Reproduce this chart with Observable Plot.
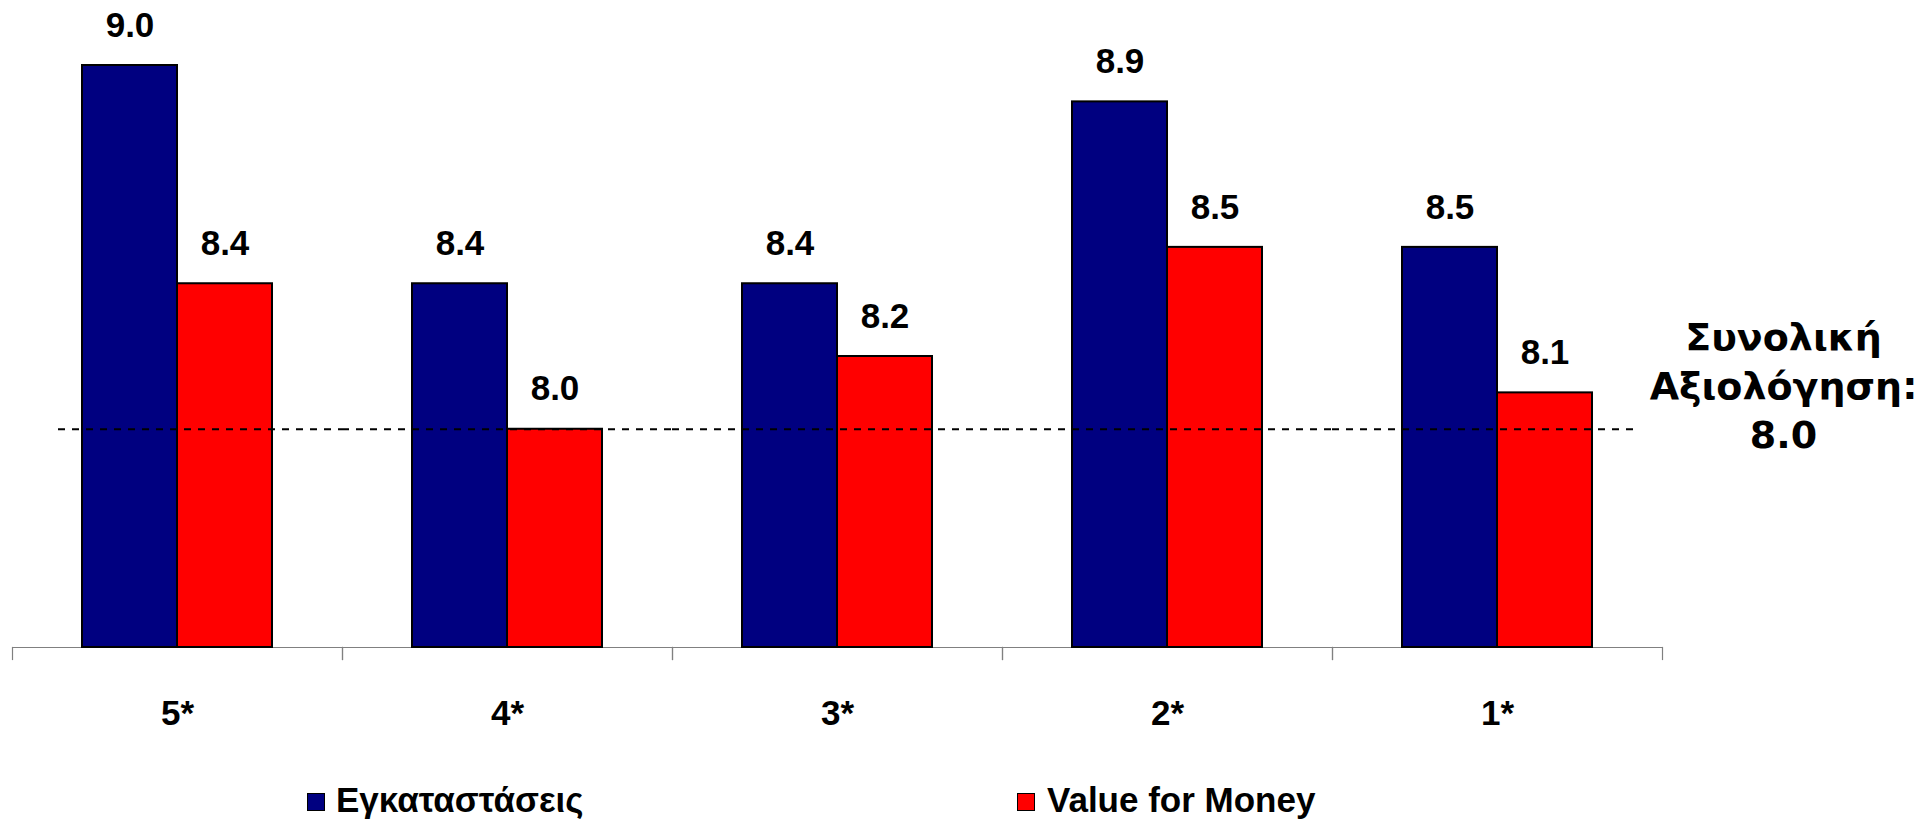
<!DOCTYPE html>
<html>
<head>
<meta charset="utf-8">
<script src="https://cdn.jsdelivr.net/npm/d3@7"></script>
<script src="https://cdn.jsdelivr.net/npm/@observablehq/plot@0.6"></script>
<style>
  html, body { margin: 0; padding: 0; background: #fff; }
  #wrap { position: relative; width: 1932px; height: 819px; overflow: hidden; font-family: "Liberation Sans", Arial, sans-serif; }
  #chart svg { display: block; }
  .legend-item { position: absolute; font-size: 35px; font-weight: bold; line-height: 35px; color: #000; white-space: nowrap; }
  .legend-swatch { position: absolute; width: 16px; height: 16px; border: 1.5px solid #000; }
</style>
</head>
<body>
<div id="wrap">
  <div id="chart"></div>
  <div id="legend"></div>
</div>
<script>
// ---- data ----
const categories = ["5*", "4*", "3*", "2*", "1*"];
const seriesNames = ["Εγκαταστάσεις", "Value for Money"];
const facilitiesValues = [9.0, 8.4, 8.4, 8.9, 8.5];
const valueForMoneyValues = [8.4, 8.0, 8.2, 8.5, 8.1];
const seriesColors = ["#000080", "#FF0000"];
const overallScore = 8.0;
const overallLabelLines = ["Συνολική", "Αξιολόγηση:"];
const yDomain = [7.4, 9.0];

// ---- table built from arrays ----
const seriesValues = [facilitiesValues, valueForMoneyValues];
const rows = [];
categories.forEach((c, i) => {
  seriesNames.forEach((s, j) => rows.push({category: c, series: s, value: seriesValues[j][i]}));
});
const refRows = categories.map(c => ({category: c, score: overallScore}));

// ---- layout ----
const W = 1932, H = 760;
const mTop = 65, baseY = 647;
const mBottom = H - baseY;
const plotH = baseY - mTop;
const font = "Liberation Sans, Arial, sans-serif";

const chart = Plot.plot({
  width: W,
  height: H,
  marginTop: mTop,
  marginBottom: mBottom,
  marginLeft: 12,
  marginRight: 270,
  style: {fontFamily: font, background: "white"},
  fx: {domain: categories, padding: 0, label: null},
  x: {domain: seriesNames, paddingInner: 0, paddingOuter: 0.72, axis: null},
  y: {domain: yDomain, axis: null},
  color: {domain: seriesNames, range: seriesColors},
  marks: [
    Plot.ruleY([yDomain[0]], {stroke: "#808080", strokeWidth: 1.2}),
    Plot.frame({anchor: "left", stroke: "#808080", strokeWidth: 1.2, insetTop: plotH, insetBottom: -12}),
    Plot.frame({anchor: "right", stroke: "#808080", strokeWidth: 1.2, insetTop: plotH, insetBottom: -12}),
    Plot.barY(rows, {fx: "category", x: "series", y1: yDomain[0], y2: "value", fill: "series", stroke: "black", strokeWidth: 2}),
    Plot.text(rows, {fx: "category", x: "series", y: "value", text: d => d.value.toFixed(1), dy: -40, lineAnchor: "middle", fontSize: 35, fontWeight: "bold", fill: "black"}),
    Plot.ruleY(refRows.slice(0, 1), {fx: "category", y: "score", stroke: "black", strokeWidth: 2, strokeDasharray: "7,7", insetLeft: 46}),
    Plot.ruleY(refRows.slice(1, -1), {fx: "category", y: "score", stroke: "black", strokeWidth: 2, strokeDasharray: "7,7"}),
    Plot.ruleY(refRows.slice(-1), {fx: "category", y: "score", stroke: "black", strokeWidth: 2, strokeDasharray: "7,7", insetRight: 29}),
    Plot.text(refRows.slice(-1), {
      fx: "category", y: "score", frameAnchor: "right", dx: 121, dy: 19,
      text: d => [...overallLabelLines, d.score.toFixed(1)].join("\n"),
      lineAnchor: "bottom", lineHeight: 1.29, textAnchor: "middle",
      fontSize: 38, fontWeight: "bold", fontFamily: "DejaVu Sans, Verdana, sans-serif", fill: "black"
    }),
    Plot.axisFx({anchor: "bottom", tickSize: 0, tickPadding: 53, fontSize: 35, fontWeight: "bold", fill: "black", label: null})
  ]
});
document.getElementById("chart").appendChild(chart);

// ---- legend (HTML, below the svg) ----
const legend = document.getElementById("legend");
const legendPos = [{sq: 307, tx: 336}, {sq: 1017, tx: 1047}];
seriesNames.forEach((name, i) => {
  const sw = document.createElement("div");
  sw.className = "legend-swatch";
  sw.style.left = legendPos[i].sq + "px";
  sw.style.top = "793px";
  sw.style.background = seriesColors[i];
  legend.appendChild(sw);
  const t = document.createElement("div");
  t.className = "legend-item";
  t.style.left = legendPos[i].tx + "px";
  t.style.top = "782px";
  t.textContent = name;
  legend.appendChild(t);
});
</script>
</body>
</html>
